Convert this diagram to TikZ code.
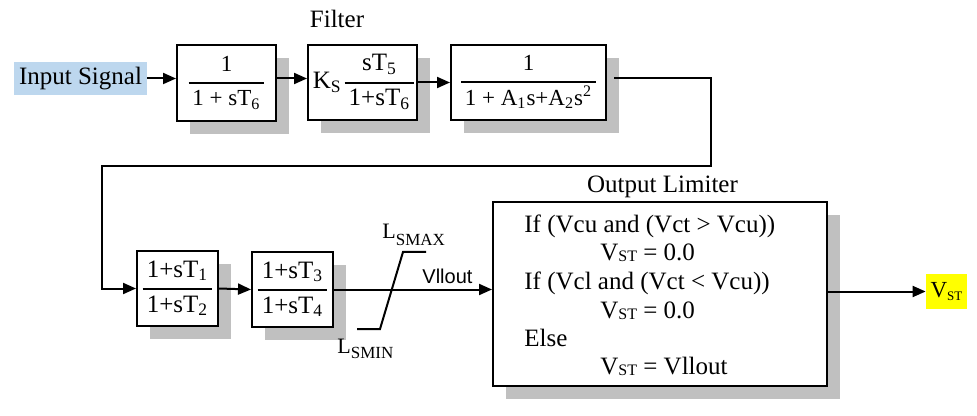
\documentclass[tikz,border=0pt]{standalone}
\usepackage{fontspec}
\setmainfont{Liberation Serif}
\newfontfamily\arialf{Liberation Sans}
\usetikzlibrary{arrows.meta,shadows,calc}
\definecolor{shadowgray}{RGB}{192,192,192}
\definecolor{inblue}{RGB}{189,215,238}
\definecolor{hlyellow}{RGB}{255,255,0}
\newcommand{\fr}[2]{{\setlength{\arrayrulewidth}{1pt}\begin{tabular}{@{\,}c@{\,}}#1\\[1pt]\hline\rule{0pt}{11pt}#2\end{tabular}}}
\newcommand{\stsub}[1]{\raisebox{-0.5pt}{\fontsize{8}{9}\selectfont #1}}
\begin{document}
\begin{tikzpicture}[x=0.5pt,y=-0.5pt,
  every node/.style={font=\fontsize{12.5}{15}\selectfont},
  blk/.style={draw, line width=1pt, fill=white, inner sep=0pt,
    drop shadow={shadow xshift=6.5pt, shadow yshift=-6.5pt, fill=shadowgray, opacity=1}},
  txt/.style={anchor=base west, inner sep=0pt},
  ln/.style={line width=1pt},
  arr/.style={line width=1pt, -{Triangle[length=6.5pt,width=5.5pt]}},
  cam/.style={font=\fontsize{11.5}{14}\selectfont}]
\useasboundingbox (0,0) rectangle (977,416);

% top row
\node[fill=inblue, minimum width=66.5pt, minimum height=16.5pt, inner sep=0pt] (in) at (80.5,78.5) {Input Signal};
\node[blk, cam, minimum width=49.5pt, minimum height=38pt] (b1) at (226.5,83) {\fr{1}{1 + sT\textsubscript{6}}};
\node[blk, minimum width=54.5pt, minimum height=37.5pt] (b2) at (362.5,82.5) {\hspace{1pt}K\textsubscript{S}\hspace{1.5pt}\fr{sT\textsubscript{5}}{1+sT\textsubscript{6}}};
\node[blk, cam, minimum width=77.5pt, minimum height=37.5pt] (b3) at (528.5,82.5) {\fr{1}{1 + A\textsubscript{1}s+A\textsubscript{2}s\textsuperscript{2}}};
\node[anchor=base] (filt) at (337,28) {Filter};

% bottom row
\node[blk, minimum width=40.5pt, minimum height=37.5pt] (b4) at (177.5,288.5) {\fr{1+sT\textsubscript{1}}{1+sT\textsubscript{2}}};
\node[blk, minimum width=40.5pt, minimum height=37.5pt] (b5) at (292.5,289.5) {\fr{1+sT\textsubscript{3}}{1+sT\textsubscript{4}}};
\node[blk, minimum width=167pt, minimum height=92pt] (lim) at (660,294) {};
\node[anchor=base] (oltitle) at (662.5,193) {Output Limiter};

\node[txt] (t1) at (524,233) {If (Vcu and (Vct > Vcu))};
\node[txt] (t2) at (600,261) {V\stsub{ST} = 0.0};
\node[txt] (t3) at (524,289) {If (Vcl and (Vct < Vcu))};
\node[txt] (t4) at (600,318) {V\stsub{ST} = 0.0};
\node[txt] (t5) at (524,346) {Else};
\node[txt] (t6) at (600,374) {V\stsub{ST} = Vllout};

\node[fill=hlyellow, minimum width=20.5pt, minimum height=17.5pt, inner sep=0pt, font=\fontsize{11.5}{14}\selectfont] (vst) at (946.5,291.5) {V\raisebox{-1.5pt}{\fontsize{6.5}{8}\selectfont ST}};

% limiter symbol and labels
\draw[ln] (357,329) -- (380,329) -- (403,252) -- (426,252);
\node[txt, font=\fontsize{11}{13}\selectfont] (lmax) at (382,239) {L\raisebox{-3.5pt}{\fontsize{8.5}{10}\selectfont SMAX}};
\node[txt, font=\fontsize{11}{13}\selectfont] (lmin) at (337,353) {L\raisebox{-2.5pt}{\fontsize{8.5}{10}\selectfont SMIN}};
\node[txt, font=\arialf\fontsize{10}{12}\selectfont] (vll) at (422,283) {Vllout};

% connectors
\coordinate (k1) at (711,166);
\coordinate (k2) at (102,166);
\draw[arr] (in.east) -- (in.east -| b1.west);
\draw[arr] (b1.east |- in.east) -- (b2.west |- in.east);
\draw[arr] (b2.east) -- (b3.west);
\draw[arr] ([xshift=3.5pt]b3.east |- in.east) -| (k1) -- (k2) |- (b4.west);
\draw[arr] (b4.east) -- (b5.west);
\draw[arr] (b5.east) -- (b5.east -| lim.west);
\draw[arr] (lim.east |- vst.west) -- (vst.west);
\end{tikzpicture}
\end{document}
